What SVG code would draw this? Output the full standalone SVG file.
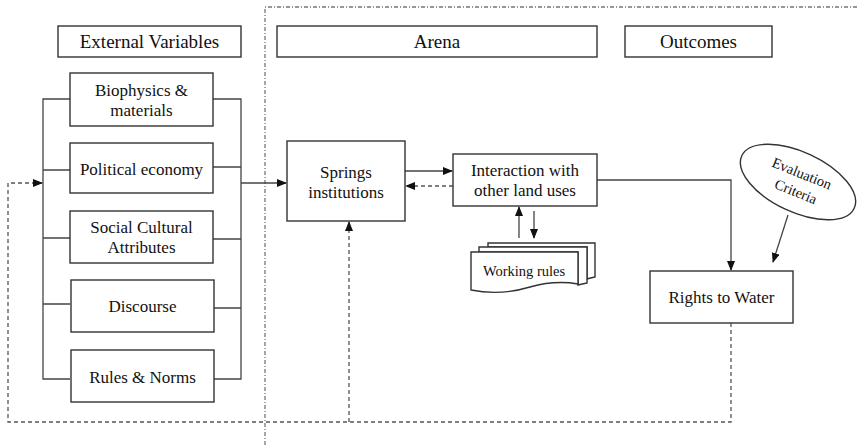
<svg xmlns="http://www.w3.org/2000/svg" width="859" height="445" viewBox="0 0 859 445">
<style>
.box{fill:#fff;stroke:#333;stroke-width:1.4}
.ln{fill:none;stroke:#444;stroke-width:1.3}
.dash{fill:none;stroke:#555;stroke-width:1.3;stroke-dasharray:4 3}
.frame{fill:none;stroke:#777;stroke-width:1.3;stroke-dasharray:4 2 1 2}
.lbl text{fill:#111;text-anchor:middle}
.h{font-size:19px}
.t{font-size:17px}
.s{font-size:14.5px}
</style>
<defs>
<marker id="ah" markerWidth="10" markerHeight="8" refX="9" refY="4" orient="auto" markerUnits="userSpaceOnUse">
<path d="M0,0 L10,4 L0,8 Z" fill="#111"/>
</marker>
</defs>
<rect width="859" height="445" fill="#fff"/>
<g id="frame">
<path class="frame" d="M265,445 V7 H859"/>
</g>
<g id="connectors">
<path class="ln" d="M70,99 H43 V379 H70 M43,170 H70 M43,238 H70 M43,304 H70"/>
<path class="ln" d="M213,99 H241 V379 H213 M213,167 H241 M213,239 H241 M213,308 H241"/>
<path class="ln" d="M241,183 H286" marker-end="url(#ah)"/>
<path class="ln" d="M405,171 H452" marker-end="url(#ah)"/>
<path class="dash" d="M453,186 H406" marker-end="url(#ah)"/>
<path class="ln" d="M519,238 V207" marker-end="url(#ah)"/>
<path class="ln" d="M534,211 V238" marker-end="url(#ah)"/>
<path class="ln" d="M597,180 H731 V270" marker-end="url(#ah)"/>
<path class="ln" d="M788,215 L773,262" marker-end="url(#ah)"/>
<path class="dash" d="M731,323 V422 H8 V183 H42" marker-end="url(#ah)"/>
<path class="dash" d="M349,422 V222" marker-end="url(#ah)"/>
</g>
<g class="lbl" font-family="'Liberation Serif', Tinos, 'Times New Roman', 'DejaVu Serif', serif">
<g id="external-variables"><rect class="box" x="58" y="26" width="183" height="31"/><text class="h" x="149.5" y="48">External Variables</text></g>
<g id="arena"><rect class="box" x="277" y="26" width="320" height="31"/><text class="h" x="437" y="48">Arena</text></g>
<g id="outcomes"><rect class="box" x="625" y="26" width="147" height="31"/><text class="h" x="698.5" y="48">Outcomes</text></g>
<g id="biophysics"><rect class="box" x="70" y="73" width="143" height="53"/><text class="t" x="141.5" y="96">Biophysics &amp;</text><text class="t" x="141.5" y="116">materials</text></g>
<g id="political-economy"><rect class="box" x="70" y="143" width="143" height="50"/><text class="t" x="141.5" y="175">Political economy</text></g>
<g id="social-cultural"><rect class="box" x="70" y="211" width="143" height="52"/><text class="t" x="141.5" y="233">Social Cultural</text><text class="t" x="141.5" y="253">Attributes</text></g>
<g id="discourse"><rect class="box" x="71" y="280" width="143" height="52"/><text class="t" x="142.5" y="312">Discourse</text></g>
<g id="rules-norms"><rect class="box" x="71" y="350" width="143" height="52"/><text class="t" x="142.5" y="383">Rules &amp; Norms</text></g>
<g id="springs"><rect class="box" x="287" y="141" width="118" height="80"/><text class="t" x="346" y="178">Springs</text><text class="t" x="346" y="198">institutions</text></g>
<g id="interaction"><rect class="box" x="453" y="154" width="144" height="52"/><text class="t" x="525" y="176">Interaction with</text><text class="t" x="525" y="196">other land uses</text></g>
<g id="working-rules">
<path class="box" d="M488,243 H595 V277 Q590,278 587,279 V247 H488 Z"/>
<path class="box" d="M479,247 H587 V283 Q582,284 578,285 V252 H479 Z"/>
<path class="box" d="M471,252 H578 V284 Q555,280 530,287 Q500,296 471,290 Z"/>
<text class="s" x="524" y="276">Working rules</text>
</g>
<g id="evaluation-criteria">
<ellipse class="box" cx="798" cy="182" rx="62" ry="30" transform="rotate(25 798 182)"/>
<text class="s" transform="translate(800 178) rotate(22)">Evaluation</text>
<text class="s" transform="translate(794 196) rotate(22)">Criteria</text>
</g>
<g id="rights-to-water"><rect class="box" x="650" y="271" width="143" height="52"/><text class="t" x="721.5" y="303">Rights to Water</text></g>
</g>
</svg>
